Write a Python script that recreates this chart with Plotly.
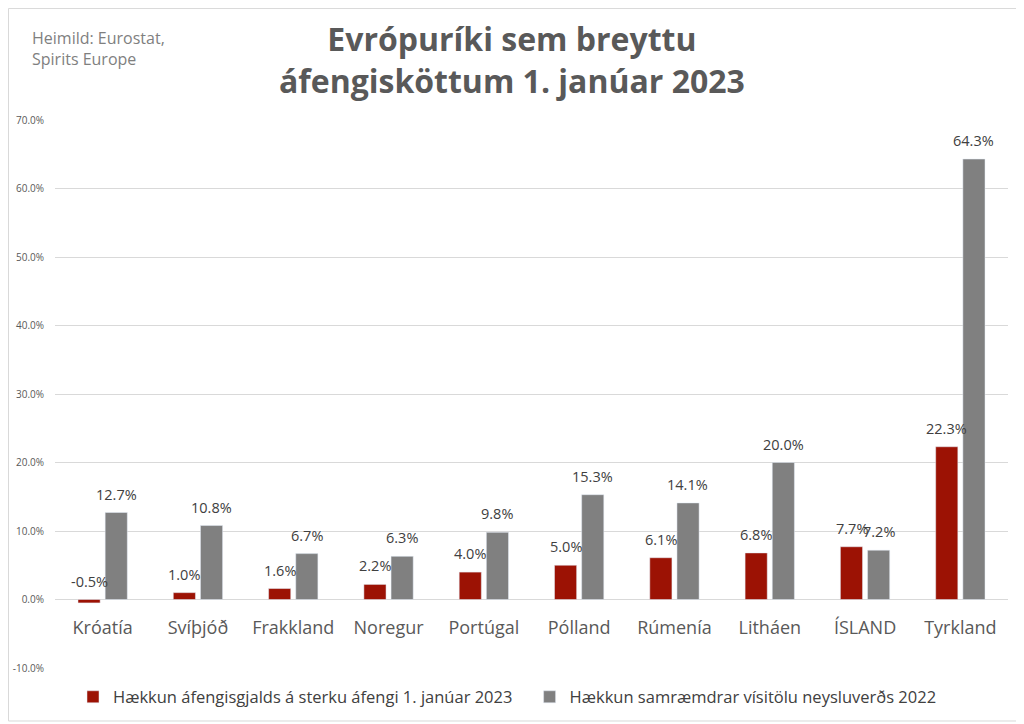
import plotly.graph_objects as go

countries = ["Króatía", "Svíþjóð", "Frakkland", "Noregur", "Portúgal",
             "Pólland", "Rúmenía", "Litháen", "ÍSLAND", "Tyrkland"]
tax_increase = [-0.5, 1.0, 1.6, 2.2, 4.0, 5.0, 6.1, 6.8, 7.7, 22.3]
cpi_increase = [12.7, 10.8, 6.7, 6.3, 9.8, 15.3, 14.1, 20.0, 7.2, 64.3]
series_names = ["Hækkun áfengisgjalds á sterku áfengi 1. janúar 2023",
                "Hækkun samræmdrar vísitölu neysluverðs 2022"]
y_ticks = [-10, 0, 10, 20, 30, 40, 50, 60, 70]

RED = "#9C1204"
GRAY = "#808080"
FONT = "Open Sans"

fig = go.Figure()
fig.add_trace(go.Bar(x=countries, y=tax_increase, name=series_names[0],
                     marker_color=RED, offsetgroup="a", legend="legend"))
fig.add_trace(go.Bar(x=countries, y=cpi_increase, name=series_names[1],
                     marker_color=GRAY, offsetgroup="b", legend="legend2"))

# data labels
for i, c in enumerate(countries):
    for v, shift in ((tax_increase[i], -13.5), (cpi_increase[i], 13.5)):
        fig.add_annotation(x=c, y=max(v, 0), text=f"{v:.1f}%", showarrow=False,
                           xshift=shift, yshift=7, yanchor="bottom",
                           font=dict(family=FONT, size=14.5, color="#404040"))

legend_style = dict(orientation="h", y=-0.053, yanchor="middle", xanchor="left",
                    font=dict(family=FONT, size=16.5, color="#404040"),
                    itemwidth=30, tracegroupgap=0, bgcolor="rgba(0,0,0,0)")

fig.update_layout(
    width=1016, height=716,
    paper_bgcolor="white", plot_bgcolor="white",
    margin=dict(l=47, r=16, t=112, b=56, autoexpand=False),
    barmode="group", bargap=0.43, bargroupgap=0.185,
    font=dict(family=FONT, color="#595959"),
    legend=dict(x=0.0189, **legend_style),
    legend2=dict(x=0.498, **legend_style),
    xaxis=dict(anchor="free", position=0.125, showline=False, ticks="",
               ticklabelstandoff=15,
               tickfont=dict(family=FONT, size=18, color="#595959"), showgrid=False),
    yaxis=dict(range=[-10, 70], tickvals=y_ticks,
               ticktext=[f"{t:.1f}%" for t in y_ticks],
               ticklabelstandoff=10,
               tickfont=dict(family=FONT, size=10, color="#595959"),
               gridcolor="#D9D9D9", gridwidth=1, zeroline=True,
               zerolinecolor="#D9D9D9", zerolinewidth=1, showline=False),
    showlegend=True,
)

# title
fig.add_annotation(xref="paper", yref="paper", x=0.48, y=1.1095, xanchor="center", yanchor="middle",
                   showarrow=False,
                   text="<b>Evrópuríki sem breyttu<br>áfengisköttum 1. janúar 2023</b>",
                   font=dict(family=FONT, size=32, color="#595959"))

fig.add_annotation(xref="paper", yref="paper", x=-0.026, y=1.131, xanchor="left", yanchor="middle",
                   align="left", showarrow=False,
                   text="Heimild: Eurostat,<br>Spirits Europe",
                   font=dict(family=FONT, size=16, color="#7F7F7F"))

fig.add_shape(type="rect", xref="paper", yref="paper", x0=-0.0488, x1=1.0115, y0=-0.0967, y1=1.2035,
              line=dict(color="#D9D9D9", width=1))

fig.write_html("out.html")
